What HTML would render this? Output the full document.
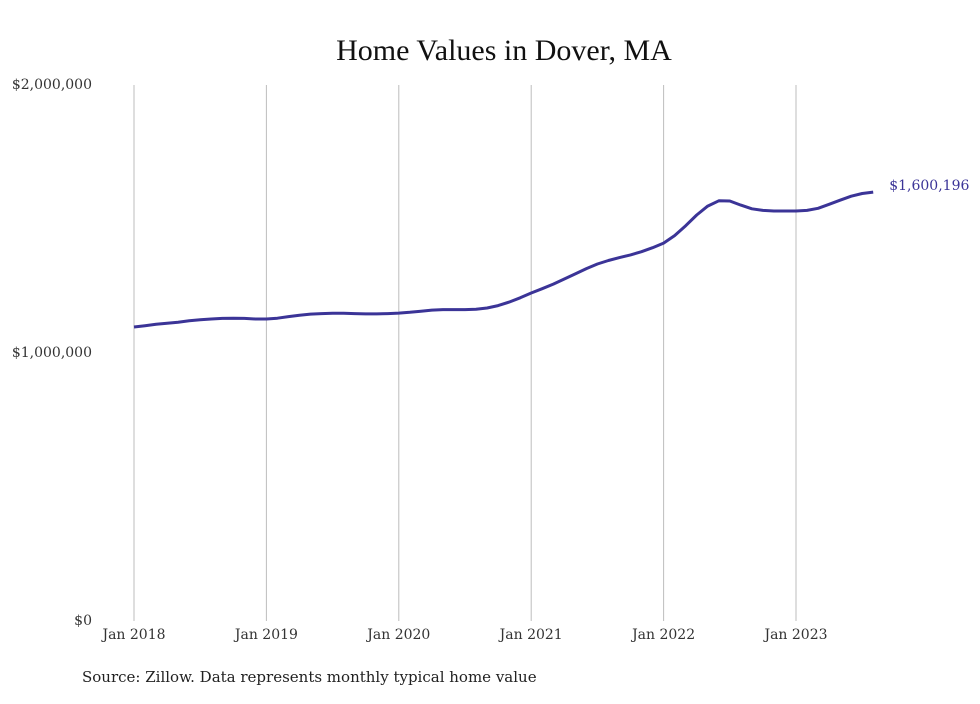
<!DOCTYPE html>
<html><head><meta charset="utf-8"><style>
body{margin:0;background:#fff;width:980px;height:699px;overflow:hidden;font-family:"Liberation Serif",serif;}
svg text{font-family:"DejaVu Serif",serif;}
svg text.title{font-family:"Liberation Serif",serif;}
</style></head><body>
<svg id="chart" width="980" height="699" viewBox="0 0 980 699" xmlns="http://www.w3.org/2000/svg">
<text class="title" x="504" y="60" text-anchor="middle" font-size="30" fill="#111">Home Values in Dover, MA</text>
<g id="grid"></g>
<g id="yaxis"></g>
<g id="xaxis"></g>
<path id="line" fill="none" stroke="#3b3497" stroke-width="3" stroke-linejoin="round"/>
<text id="endlabel" font-size="14" fill="#3b3497"></text>
<text x="82" y="682" font-size="15" fill="#222">Source: Zillow. Data represents monthly typical home value</text>
</svg>
<script>
const yTicks=[0,1000000,2000000];
const yTickLabels=["$0","$1,000,000","$2,000,000"];
const xTickYears=[2018,2019,2020,2021,2022,2023];
const xTickLabels=["Jan 2018","Jan 2019","Jan 2020","Jan 2021","Jan 2022","Jan 2023"];
const startYear=2018;
const values=[1097000,1102000,1107000,1111000,1115000,1120000,1124000,1127000,1129000,1130000,1129000,1127000,
1127000,1130000,1136000,1141000,1145000,1147000,1148000,1148000,1147000,1146000,1146000,1147000,
1149000,1152000,1156000,1160000,1162000,1162000,1162000,1163000,1168000,1177000,1190000,1206000,
1224000,1240000,1257000,1276000,1295000,1315000,1332000,1345000,1356000,1366000,1378000,1393000,
1410000,1438000,1475000,1515000,1548000,1568000,1567000,1552000,1538000,1532000,1530000,1530000,
1530000,1532000,1540000,1555000,1570000,1585000,1595000,1600196];
const x0=134,yearW=132.4,yBase=621,yTop=85;
const xs=m=>x0+m*yearW/12;
const ys=v=>yBase-(v/2000000)*(yBase-yTop);
const NS="http://www.w3.org/2000/svg";
const grid=document.getElementById('grid'),ya=document.getElementById('yaxis'),xa=document.getElementById('xaxis');
xTickYears.forEach((yr,i)=>{
 const x=xs((yr-startYear)*12);
 const l=document.createElementNS(NS,'line');
 
 
 l.setAttribute('x1',x);l.setAttribute('x2',x);l.setAttribute('y1',yTop);l.setAttribute('y2',yBase);
 l.setAttribute('stroke','#bdbdbd');l.setAttribute('stroke-width','1');
 grid.appendChild(l);
 const t=document.createElementNS(NS,'text');
 
 
 t.setAttribute('x',x);t.setAttribute('y',yBase+18);t.setAttribute('text-anchor','middle');
 t.setAttribute('font-size','14');t.setAttribute('fill','#333');t.textContent=xTickLabels[i];
 xa.appendChild(t);
});
yTicks.forEach((v,i)=>{
 const t=document.createElementNS(NS,'text');
 
 
 t.setAttribute('x',92);t.setAttribute('y',ys(v)+4);t.setAttribute('text-anchor','end');
 t.setAttribute('font-size','14');t.setAttribute('fill','#333');t.textContent=yTickLabels[i];
 ya.appendChild(t);
});
let d='';
values.forEach((v,i)=>{d+=(i?'L':'M')+xs(i).toFixed(1)+','+ys(v).toFixed(1);});
document.getElementById('line').setAttribute('d',d);
const last=values.length-1,el=document.getElementById('endlabel');
el.setAttribute('x',xs(last)+16);el.setAttribute('y',ys(values[last])-2);
el.textContent='$'+Math.round(values[last]).toLocaleString('en-US');
</script>
</body></html>
